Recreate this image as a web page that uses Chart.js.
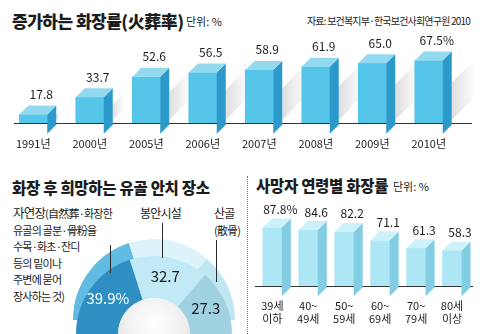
<!DOCTYPE html>
<html>
<head>
<meta charset="utf-8">
<script src="https://cdn.jsdelivr.net/npm/chart.js@4.4.0/dist/chart.umd.min.js"></script>
<style>
  body { margin: 0; width: 480px; height: 334px; overflow: hidden; background: #fff; position: relative;
         font-family: "Noto Sans CJK KR", sans-serif; color: #1c1c1c; }
  .t { position: absolute; white-space: nowrap; }
  canvas { position: absolute; }
  .title { font-weight: 900; letter-spacing: -0.5px; }
  .unit { font-size: 11px; }
  .lead { position: absolute; width: 1px; background: #2a2a2a; z-index: 5; }
</style>
</head>
<body>

<div class="t title" style="left:12px;top:10px;font-size:17px;line-height:22px;">증가하는 화장률(火葬率)</div>
<div class="t unit" style="left:186px;top:14px;line-height:15px;">단위: %</div>
<div class="t" style="right:10px;top:14px;font-size:10px;line-height:14px;letter-spacing:-0.8px;">자료: 보건복지부·한국보건사회연구원 2010</div>

<div class="t title" style="left:12px;top:177px;font-size:15.5px;line-height:20px;letter-spacing:-0.3px;">화장 후 희망하는 유골 안치 장소</div>
<div class="t title" style="left:256px;top:175px;font-size:15.5px;line-height:20px;letter-spacing:-0.3px;">사망자 연령별 화장률</div>
<div class="t unit" style="left:393px;top:179px;line-height:15px;">단위: %</div>

<div style="position:absolute;left:247px;top:176px;height:158px;border-left:1px dotted #777;"></div>

<div class="t" style="left:13px;top:205px;font-size:11px;line-height:16.5px;letter-spacing:-0.8px;">
  <span style="font-size:12.5px;">자연장</span>(自然葬·화장한<br>유골의 골분·骨粉을<br>수목·화초·잔디<br>등의 밑이나<br>주변에 묻어<br>장사하는 것)
</div>
<div class="t" style="left:140px;top:205px;font-size:12px;line-height:16px;letter-spacing:-0.8px;">봉안시설</div>
<div class="t" style="left:214px;top:205px;font-size:12px;line-height:16.5px;letter-spacing:-0.8px;">산골<br><span style="font-size:11px">(散骨)</span></div>

<canvas id="placeBack" width="162" height="81" style="left:73px;top:239px;"></canvas>
<canvas id="placeFront" width="156" height="78" style="left:76px;top:256px;"></canvas>
<div style="position:absolute;left:118px;top:298px;width:72px;height:72px;border-radius:50%;z-index:3;
     background:radial-gradient(circle at 50% 35%, #ffffff 0%, #f1f1f1 45%, #d6d6d6 100%);"></div>

<div class="lead" style="left:110px;top:245px;height:28px;"></div>
<div class="lead" style="left:162px;top:223px;height:35px;"></div>
<div class="lead" style="left:216px;top:240px;height:42px;"></div>

<canvas id="yearChart" width="480" height="125" style="left:0;top:30px;"></canvas>
<canvas id="ageChart" width="232" height="139" style="left:248px;top:195px;"></canvas>

<script>
const yearLabels = ['1991년', '2000년', '2005년', '2006년', '2007년', '2008년', '2009년', '2010년'];
const yearRates = [17.8, 33.7, 52.6, 56.5, 58.9, 61.9, 65.0, 67.5];

const placeLabels = ['자연장', '봉안시설', '산골'];
const placeShares = [39.9, 32.7, 27.3];

const ageLabels = [['39세', '이하'], ['40~', '49세'], ['50~', '59세'], ['60~', '69세'], ['70~', '79세'], ['80세', '이상']];
const ageRates = [87.8, 84.6, 82.2, 71.1, 61.3, 58.3];

const NUM_FONT = '"Liberation Sans Narrow", "Noto Sans CJK KR", sans-serif';

// baseline, soft shadow, side + top faces and the value above each bar
const cube = {
  id: 'cube',
  beforeDatasetsDraw(chart, args, opts) {
    const ctx = chart.ctx;
    const base = chart.chartArea.bottom;
    const d = opts.depth;
    ctx.save();
    if (opts.shadow) {
      chart.getDatasetMeta(0).data.forEach(bar => {
        const {x, y, width} = bar.getProps(['x', 'y', 'width'], true);
        const R = x + width / 2 + d;
        const h = base - y;
        const dx = Math.min(24, 0.45 * h);
        const y0 = base - 3;
        const g = ctx.createLinearGradient(R, 0, R + dx, 0);
        g.addColorStop(0, 'rgba(0,0,0,0.13)');
        g.addColorStop(1, 'rgba(0,0,0,0)');
        ctx.fillStyle = g;
        ctx.beginPath();
        ctx.moveTo(R, y0);
        ctx.lineTo(R, y0 - 0.6 * h);
        ctx.lineTo(R + dx, y0 - 0.6 * h - dx);
        ctx.lineTo(R + dx, y0 - dx);
        ctx.closePath();
        ctx.fill();
      });
    }
    ctx.strokeStyle = '#333';
    ctx.lineWidth = 1.2;
    ctx.beginPath();
    ctx.moveTo(opts.lineFrom, base + 0.5);
    ctx.lineTo(opts.lineTo, base + 0.5);
    ctx.stroke();
    ctx.restore();
  },
  afterDatasetsDraw(chart, args, opts) {
    const ctx = chart.ctx;
    const d = opts.depth;
    const values = chart.data.datasets[0].data;
    ctx.save();
    chart.getDatasetMeta(0).data.forEach((bar, i) => {
      const {x, y, base, width} = bar.getProps(['x', 'y', 'base', 'width'], true);
      const l = x - width / 2, r = x + width / 2;
      ctx.fillStyle = opts.side;
      ctx.beginPath();
      ctx.moveTo(r, y); ctx.lineTo(r + d, y - d); ctx.lineTo(r + d, base - d); ctx.lineTo(r, base);
      ctx.closePath(); ctx.fill();
      ctx.fillStyle = opts.top;
      ctx.beginPath();
      ctx.moveTo(l, y); ctx.lineTo(l + d, y - d); ctx.lineTo(r + d, y - d); ctx.lineTo(r, y);
      ctx.closePath(); ctx.fill();

      let txt = values[i].toFixed(1);
      if (i === opts.percentAt) txt += '%';
      ctx.fillStyle = '#1c1c1c';
      ctx.font = '12px ' + NUM_FONT;
      ctx.textAlign = 'center';
      ctx.textBaseline = 'middle';
      ctx.fillText(txt, x + d - 1, y - d - opts.gap);
    });
    ctx.restore();
  }
};

function barChart(id, labels, values, o) {
  return new Chart(document.getElementById(id), {
    type: 'bar',
    data: {
      labels: labels,
      datasets: [{data: values, backgroundColor: o.front, borderWidth: 0, barThickness: o.thickness}]
    },
    options: {
      responsive: false,
      animation: false,
      events: [],
      layout: {padding: o.padding},
      plugins: {
        legend: {display: false},
        tooltip: {enabled: false},
        cube: {depth: 9, side: o.side, top: o.top, gap: o.gap, percentAt: o.percentAt,
               lineFrom: o.lineFrom, lineTo: o.lineTo, shadow: o.shadow}
      },
      scales: {
        x: {
          grid: {display: false, drawTicks: false},
          border: {display: false},
          ticks: {color: '#1c1c1c', padding: o.tickPad, maxRotation: 0, autoSkip: false,
                  font: {family: NUM_FONT, size: 11, lineHeight: 1.18}},
          afterFit(s) { s.height = o.axisH; }
        },
        y: {display: false, min: o.min, max: o.max}
      }
    },
    plugins: [cube]
  });
}

barChart('yearChart', yearLabels, yearRates, {
  front: '#56c5ea', side: '#2b9aca', top: '#93daf1', thickness: 28,
  padding: {left: 5, right: 23, top: 17, bottom: 0}, axisH: 32, tickPad: 14,
  min: 10, max: 80, gap: 11, percentAt: yearRates.length - 1, lineFrom: 14, lineTo: 472, shadow: true
});

barChart('ageChart', ageLabels, ageRates, {
  front: '#ade6f5', side: '#82cde2', top: '#cdf1fa', thickness: 19,
  padding: {left: 2, right: 10, top: 23, bottom: 0}, axisH: 48, tickPad: 13,
  min: 13, max: 100, gap: 9, percentAt: 0, lineFrom: 7, lineTo: 225, shadow: false
});

// half doughnut: a lighter copy shifted up gives the thickness
function halfDonut(id, colors, withLabels) {
  const lbl = {
    id: 'arcLabels',
    afterDatasetsDraw(chart) {
      if (!withLabels) return;
      const ctx = chart.ctx;
      const txtColors = ['#ffffff', '#1c1c1c', '#1c1c1c'];
      ctx.save();
      ctx.font = '15px ' + NUM_FONT;
      ctx.textAlign = 'center';
      ctx.textBaseline = 'middle';
      chart.getDatasetMeta(0).data.forEach((arc, i) => {
        const p = arc.tooltipPosition(true);
        let txt = placeShares[i].toFixed(1);
        if (i === 0) txt += '%';
        ctx.fillStyle = txtColors[i];
        ctx.fillText(txt, p.x, p.y - 2);
      });
      ctx.restore();
    }
  };
  return new Chart(document.getElementById(id), {
    type: 'doughnut',
    data: {labels: placeLabels, datasets: [{data: placeShares, backgroundColor: colors, borderWidth: 0, hoverOffset: 0}]},
    options: {
      responsive: false,
      animation: false,
      events: [],
      rotation: -90,
      circumference: 180,
      cutout: '46%',
      plugins: {legend: {display: false}, tooltip: {enabled: false}}
    },
    plugins: [lbl]
  });
}

halfDonut('placeBack', ['#60bce2', '#dcf3fb', '#c0e6f1'], false);
halfDonut('placeFront', ['#2f8fc3', '#c1e9f6', '#a1d2e2'], true);
</script>
</body>
</html>
